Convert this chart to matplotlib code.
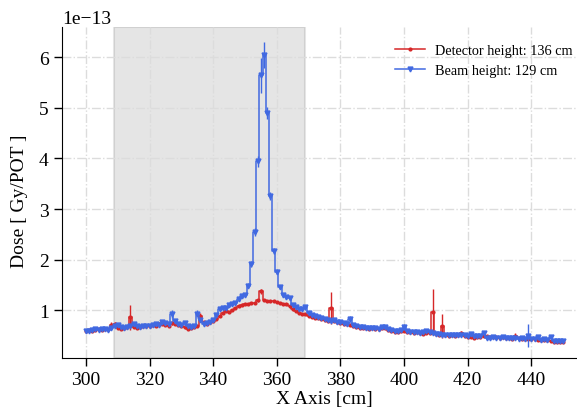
import numpy as np
import matplotlib
matplotlib.use("Agg")
import matplotlib.pyplot as plt
from matplotlib.lines import Line2D

plt.rcParams['font.family'] = ['Liberation Serif', 'DejaVu Serif']

# bin centres in cm
x_cm = np.arange(300, 451)

# dose values in units of 1e-13 Gy/POT
detector_dose = [
    0.60, 0.61, 0.60, 0.62, 0.63, 0.62, 0.64, 0.63, 0.72, 0.74,
    0.66, 0.64, 0.65, 0.67, 0.86, 0.68, 0.66, 0.67, 0.69, 0.70,
    0.70, 0.71, 0.69, 0.73, 0.74, 0.72, 0.70, 0.75, 0.74, 0.72,
    0.70, 0.68, 0.64, 0.65, 0.67, 0.70, 0.88, 0.76, 0.74, 0.76,
    0.78, 0.82, 0.88, 0.95, 0.98, 0.96, 1.00, 1.05, 1.08, 1.10,
    1.12, 1.13, 1.15, 1.14, 1.20, 1.38, 1.20, 1.19, 1.18, 1.18,
    1.16, 1.15, 1.13, 1.12, 1.08, 1.02, 0.98, 0.95, 0.92, 0.93,
    0.88, 0.87, 0.85, 0.84, 0.82, 0.80, 0.79, 1.05, 0.78, 0.76,
    0.75, 0.74, 0.73, 0.72, 0.70, 0.68, 0.66, 0.65, 0.66, 0.64,
    0.65, 0.64, 0.63, 0.65, 0.66, 0.62, 0.60, 0.58, 0.57, 0.59,
    0.60, 0.58, 0.57, 0.56, 0.57, 0.55, 0.54, 0.56, 0.55, 0.97,
    0.53, 0.52, 0.69, 0.51, 0.50, 0.51, 0.50, 0.52, 0.55, 0.50,
    0.48, 0.47, 0.46, 0.48, 0.47, 0.50, 0.49, 0.48, 0.47, 0.48,
    0.46, 0.47, 0.45, 0.46, 0.44, 0.50, 0.45, 0.44, 0.43, 0.44,
    0.43, 0.44, 0.42, 0.41, 0.42, 0.41, 0.40, 0.38, 0.37, 0.38,
    0.38,
]
detector_err = [
    0.02, 0.02, 0.02, 0.02, 0.02, 0.02, 0.02, 0.02, 0.04, 0.03,
    0.02, 0.02, 0.02, 0.02, 0.24, 0.02, 0.02, 0.02, 0.02, 0.02,
    0.02, 0.02, 0.02, 0.03, 0.02, 0.02, 0.02, 0.03, 0.02, 0.02,
    0.02, 0.02, 0.02, 0.02, 0.02, 0.02, 0.06, 0.02, 0.02, 0.02,
    0.02, 0.02, 0.02, 0.02, 0.02, 0.02, 0.02, 0.02, 0.02, 0.02,
    0.02, 0.02, 0.02, 0.02, 0.03, 0.05, 0.02, 0.02, 0.02, 0.02,
    0.02, 0.02, 0.02, 0.02, 0.02, 0.02, 0.02, 0.02, 0.02, 0.02,
    0.02, 0.02, 0.02, 0.02, 0.02, 0.02, 0.02, 0.32, 0.02, 0.02,
    0.02, 0.02, 0.02, 0.02, 0.02, 0.02, 0.02, 0.02, 0.02, 0.02,
    0.02, 0.02, 0.02, 0.02, 0.02, 0.02, 0.02, 0.02, 0.02, 0.02,
    0.02, 0.02, 0.02, 0.02, 0.02, 0.02, 0.02, 0.02, 0.02, 0.46,
    0.02, 0.02, 0.24, 0.02, 0.02, 0.02, 0.02, 0.02, 0.04, 0.02,
    0.02, 0.02, 0.02, 0.02, 0.02, 0.02, 0.02, 0.02, 0.02, 0.02,
    0.02, 0.02, 0.02, 0.02, 0.02, 0.05, 0.02, 0.02, 0.02, 0.02,
    0.02, 0.02, 0.02, 0.02, 0.02, 0.02, 0.02, 0.02, 0.02, 0.02,
    0.02,
]

beam_dose = [
    0.60, 0.59, 0.61, 0.63, 0.62, 0.64, 0.63, 0.62, 0.65, 0.70,
    0.71, 0.68, 0.66, 0.67, 0.70, 0.73, 0.70, 0.68, 0.70, 0.69,
    0.70, 0.72, 0.74, 0.72, 0.76, 0.75, 0.73, 0.92, 0.78, 0.74,
    0.72, 0.75, 0.70, 0.67, 0.70, 0.93, 0.80, 0.74, 0.75, 0.77,
    0.80, 0.90, 1.02, 1.05, 1.04, 1.10, 1.12, 1.15, 1.22, 1.28,
    1.30, 1.49, 1.92, 2.55, 3.94, 5.64, 6.04, 4.89, 3.25, 2.18,
    1.76, 1.47, 1.30, 1.26, 1.24, 1.10, 1.06, 1.03, 1.02, 1.06,
    0.95, 0.90, 0.88, 0.86, 0.84, 0.82, 0.80, 0.79, 0.80, 0.77,
    0.76, 0.75, 0.74, 0.82, 0.72, 0.70, 0.68, 0.67, 0.66, 0.65,
    0.66, 0.65, 0.64, 0.68, 0.67, 0.63, 0.62, 0.60, 0.59, 0.61,
    0.68, 0.60, 0.58, 0.57, 0.58, 0.56, 0.57, 0.60, 0.58, 0.56,
    0.54, 0.53, 0.52, 0.52, 0.51, 0.52, 0.51, 0.51, 0.52, 0.51,
    0.50, 0.53, 0.49, 0.50, 0.49, 0.56, 0.46, 0.46, 0.47, 0.46,
    0.46, 0.47, 0.46, 0.45, 0.46, 0.45, 0.44, 0.45, 0.44, 0.50,
    0.44, 0.43, 0.48, 0.42, 0.43, 0.42, 0.47, 0.40, 0.39, 0.40,
    0.40,
]
beam_err = [
    0.02, 0.02, 0.02, 0.02, 0.02, 0.02, 0.02, 0.02, 0.02, 0.03,
    0.02, 0.02, 0.02, 0.02, 0.02, 0.02, 0.02, 0.02, 0.02, 0.02,
    0.02, 0.02, 0.02, 0.02, 0.03, 0.02, 0.02, 0.08, 0.02, 0.02,
    0.02, 0.02, 0.02, 0.02, 0.02, 0.07, 0.03, 0.02, 0.02, 0.02,
    0.02, 0.03, 0.03, 0.03, 0.03, 0.03, 0.03, 0.03, 0.04, 0.04,
    0.04, 0.05, 0.06, 0.08, 0.10, 0.35, 0.26, 0.12, 0.08, 0.06,
    0.05, 0.04, 0.04, 0.03, 0.03, 0.03, 0.03, 0.03, 0.03, 0.05,
    0.02, 0.02, 0.02, 0.02, 0.02, 0.02, 0.02, 0.02, 0.03, 0.02,
    0.02, 0.02, 0.02, 0.06, 0.02, 0.02, 0.02, 0.02, 0.02, 0.02,
    0.02, 0.02, 0.02, 0.03, 0.02, 0.02, 0.02, 0.02, 0.02, 0.02,
    0.06, 0.02, 0.02, 0.02, 0.02, 0.02, 0.02, 0.03, 0.02, 0.02,
    0.02, 0.02, 0.02, 0.02, 0.02, 0.02, 0.02, 0.02, 0.02, 0.02,
    0.02, 0.03, 0.02, 0.02, 0.02, 0.03, 0.02, 0.02, 0.02, 0.02,
    0.02, 0.02, 0.02, 0.02, 0.02, 0.02, 0.02, 0.02, 0.02, 0.23,
    0.02, 0.02, 0.04, 0.02, 0.02, 0.02, 0.04, 0.02, 0.02, 0.02,
    0.02,
]

# shaded region (cm)
span_start, span_end = 308.8, 368.8

scale = 1e-13
red = '#d62728'
blue = 'royalblue'

fig = plt.figure(figsize=(5.77, 4.14), dpi=100)
ax = fig.add_axes([0.1075, 0.133, 0.91, 0.80])

ax.axvspan(span_start, span_end, facecolor='gray', alpha=0.2,
           edgecolor='gray', linewidth=1.5, zorder=0)

ax.errorbar(x_cm, np.array(detector_dose) * scale, yerr=np.array(detector_err) * scale,
            color=red, marker='.', markersize=4, linewidth=1.1, elinewidth=1,
            drawstyle='steps-mid', zorder=3)
ax.errorbar(x_cm, np.array(beam_dose) * scale, yerr=np.array(beam_err) * scale,
            color=blue, marker='v', markersize=3.5, linewidth=1.1, elinewidth=1,
            drawstyle='steps-mid', zorder=4)

ax.grid(True, linestyle='-.', color='#dcdcdc', linewidth=1, zorder=0)
ax.set_axisbelow(True)

ax.set_xlim(292.5, 457.5)
ax.set_ylim(0.06e-13, 6.6e-13)

ax.spines['top'].set_visible(False)
ax.spines['right'].set_visible(False)
ax.set_xticks(np.arange(300, 441, 20))
ax.tick_params(labelsize=14, length=6, width=1)
ax.yaxis.get_offset_text().set_fontsize(14)

ax.set_xlabel('X Axis [cm]', fontsize=14, labelpad=1)
ax.set_ylabel('Dose [ Gy/POT ]', fontsize=14)
ax.yaxis.set_label_coords(-0.065, 0.475)

handles = [
    Line2D([], [], color=red, marker='.', markersize=4, linewidth=1.1),
    Line2D([], [], color=blue, marker='v', markersize=3.5, linewidth=1.1),
]
labels = ['Detector height: 136 cm', 'Beam height: 129 cm']
ax.legend(handles, labels, loc='upper right', bbox_to_anchor=(1.015, 0.922),
          bbox_transform=fig.transFigure, frameon=False, fontsize=10.3,
          handlelength=2.1, handletextpad=0.7, labelspacing=0.5)

fig.savefig('out.png', dpi=100)
